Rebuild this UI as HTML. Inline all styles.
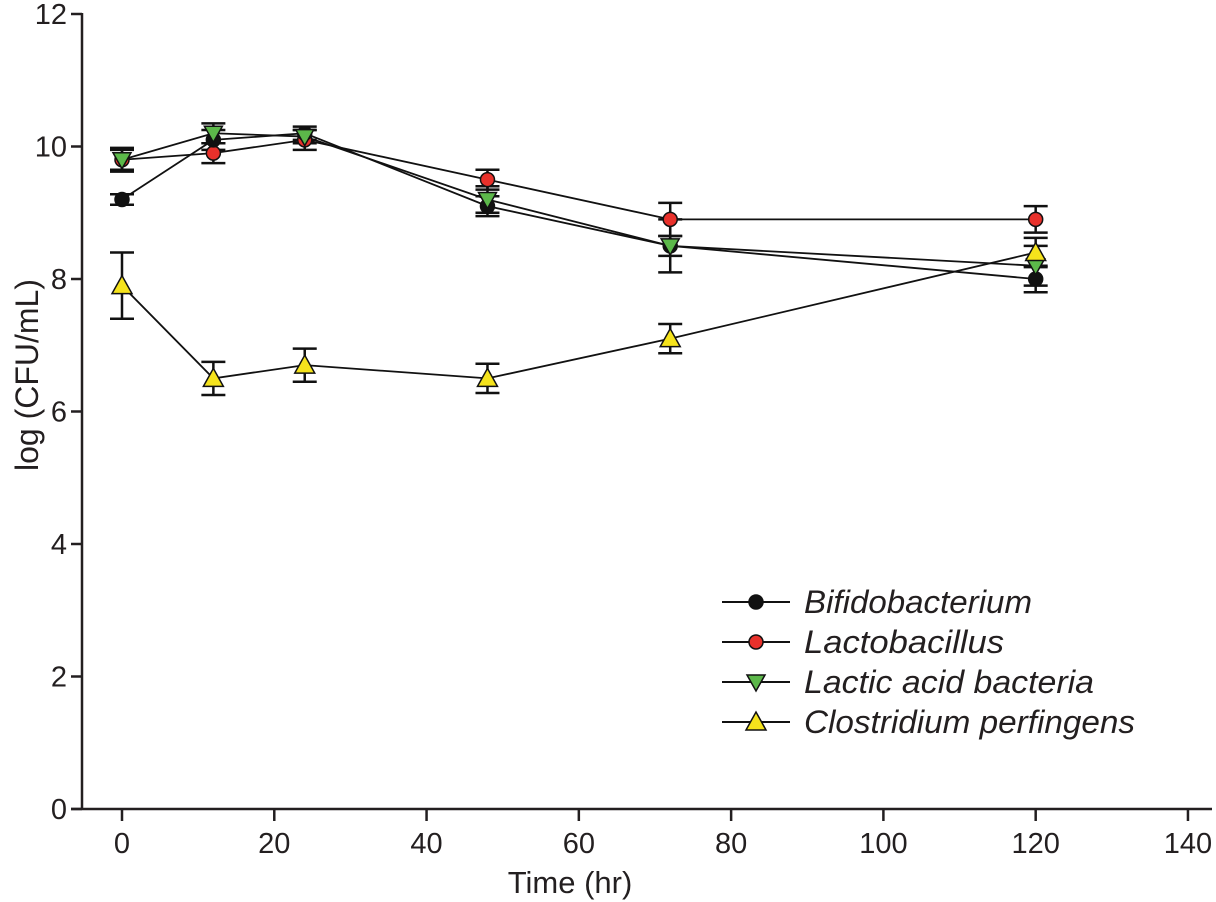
<!DOCTYPE html>
<html><head><meta charset="utf-8"><style>
body{margin:0;background:#fff;}
svg{display:block;font-family:"Liberation Sans",Arial,sans-serif;}
</style></head><body>
<svg id="s" width="1216" height="902" viewBox="0 0 1216 902" xmlns="http://www.w3.org/2000/svg"></svg>
<script>
const X=t=>122+t*7.614, Y=v=>809-v*66.25;
let h='';
h+=`<line x1="82" y1="13" x2="82" y2="810" stroke="#231f20" stroke-width="2.5"/>`;
h+=`<line x1="71" y1="809" x2="1212" y2="809" stroke="#231f20" stroke-width="2.5"/>`;
for(let v=0;v<=12;v+=2){h+=`<line x1="71" y1="${Y(v)}" x2="82" y2="${Y(v)}" stroke="#231f20" stroke-width="2.5"/>`;
h+=`<text x="67" y="${Y(v)+10}" font-size="29" text-anchor="end" fill="#231f20">${v}</text>`;}
for(let t=0;t<=140;t+=20){h+=`<line x1="${X(t)}" y1="809" x2="${X(t)}" y2="821" stroke="#231f20" stroke-width="2.5"/>`;
h+=`<text x="${X(t)}" y="853" font-size="29" text-anchor="middle" fill="#231f20">${t}</text>`;}
h+=`<text x="570" y="893" font-size="31" text-anchor="middle" fill="#231f20">Time (hr)</text>`;
h+=`<text transform="translate(38,375) rotate(-90)" font-size="32" text-anchor="middle" fill="#231f20">log (CFU/mL)</text>`;
const T=[0,12,24,48,72,120];
const S=[
 {c:'#e8312b',m:'c',v:[9.8,9.9,10.1,9.5,8.9,8.9],e:[0.15,0.15,0.15,0.15,0.25,0.2]},
 {c:'#111',m:'c',v:[9.2,10.1,10.2,9.1,8.5,8.0],e:[0.08,0.15,0.1,0.15,0.15,0.2]},
 {c:'#5cb84a',m:'d',v:[9.8,10.2,10.15,9.2,8.5,8.2],e:[0.18,0.15,0.1,0.2,0.4,0.3]},
 {c:'#f5e31c',m:'u',v:[7.9,6.5,6.7,6.5,7.1,8.4],e:[0.5,0.25,0.25,0.22,0.22,0.22]}
];
function mk(m,c,x,y){
 if(m=='c')return `<circle cx="${x}" cy="${y}" r="7" fill="${c}" stroke="#111" stroke-width="1.5"/>`;
 if(m=='d')return `<polygon points="${x-9},${y-7} ${x+9},${y-7} ${x},${y+9}" fill="${c}" stroke="#111" stroke-width="1.5"/>`;
 return `<polygon points="${x-10},${y+8} ${x+10},${y+8} ${x},${y-10}" fill="${c}" stroke="#111" stroke-width="1.5"/>`;
}
S.forEach(s=>{
 h+=`<polyline fill="none" stroke="#111" stroke-width="1.8" points="${T.map((t,i)=>X(t)+','+Y(s.v[i])).join(' ')}"/>`;
 T.forEach((t,i)=>{const x=X(t),a=Y(s.v[i]+s.e[i]),b=Y(s.v[i]-s.e[i]);
 h+=`<path d="M${x},${a}V${b}M${x-12},${a}H${x+12}M${x-12},${b}H${x+12}" stroke="#111" stroke-width="2.5"/>`;});
});
S.forEach(s=>T.forEach((t,i)=>h+=mk(s.m,s.c,X(t),Y(s.v[i]))));
const L=[['Bifidobacterium','#111','c'],['Lactobacillus','#e8312b','c'],['Lactic acid bacteria','#5cb84a','d'],['Clostridium perfingens','#f5e31c','u']];
L.forEach((l,i)=>{const y=602+i*40;
 h+=`<line x1="722" y1="${y}" x2="790" y2="${y}" stroke="#111" stroke-width="2"/>`;
 h+=mk(l[2],l[1],756,y);
 h+=`<text x="804" y="${y+11}" font-size="32" font-style="italic" fill="#231f20" textLength="${[228,200,290,331][i]}" lengthAdjust="spacingAndGlyphs">${l[0]}</text>`;});
document.getElementById('s').innerHTML=h;
</script>
</body></html>
